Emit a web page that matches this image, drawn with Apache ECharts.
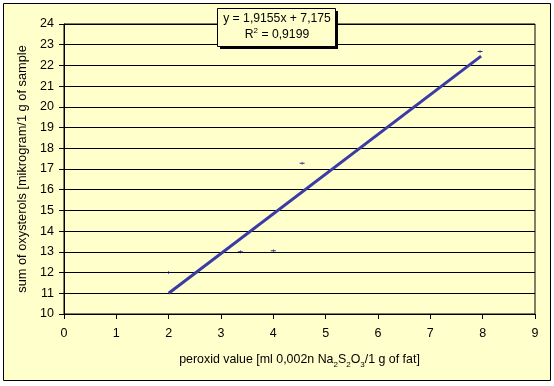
<!DOCTYPE html>
<html>
<head>
<meta charset="utf-8">
<script src="https://cdn.jsdelivr.net/npm/echarts@6/dist/echarts.min.js"></script>
<style>
html,body{margin:0;padding:0;background:#fff;}
#c{width:554px;height:386px;}
</style>
</head>
<body>
<div id="c"></div>
<script>
var xValues = [2, 3.37, 4, 4.55, 7.95];
var yValues = [12, 13, 13.05, 17.28, 22.67];
var trendX = [2, 7.97];
var trendY = [11.0, 22.45];
var equationText = 'y = 1,9155x + 7,175';
var r2Text = '0,9199';
var xAxisTitle = ['peroxid value [ml 0,002n Na', '2', 'S', '2', 'O', '3', '/1 g of fat]'];
var yAxisTitle = 'sum of oxysterols [mikrogram/1 g of sample';

var FONT = 'Liberation Sans, Arial, sans-serif';
var chart = echarts.init(document.getElementById('c'));

var points = xValues.map(function (x, i) { return [x, yValues[i]]; });
var trend = trendX.map(function (x, i) { return [x, trendY[i]]; });

var xName = '{n|' + xAxisTitle[0] + '}{s|' + xAxisTitle[1] + '}{n|' + xAxisTitle[2] + '}{s|' + xAxisTitle[3] + '}{n|' + xAxisTitle[4] + '}{s|' + xAxisTitle[5] + '}{n|' + xAxisTitle[6] + '}';

chart.setOption({
  backgroundColor: '#ffffff',
  animation: false,
  graphic: [{
    type: 'rect',
    z: -10,
    shape: {x: 3.5, y: 3.5, width: 547, height: 377},
    style: {fill: '#FFFFCC', stroke: '#000', lineWidth: 1}
  }, {
    type: 'rect',
    z: 100,
    shape: {x: 220, y: 11, width: 118, height: 38},
    style: {fill: '#000'}
  }, {
    type: 'rect',
    z: 101,
    shape: {x: 217.5, y: 8.5, width: 118, height: 38},
    style: {fill: '#FFFFCC', stroke: '#000', lineWidth: 1}
  }, {
    type: 'text',
    z: 102,
    x: 277,
    y: 11,
    style: {
      text: '{a|' + equationText + '}\n{b|R}{sup|2}{b| = ' + r2Text + '}',
      align: 'center',
      verticalAlign: 'top',
      rich: {
        a: {fontSize: 12.2, fontFamily: FONT, fill: '#000', lineHeight: 16},
        b: {fontSize: 12.2, fontFamily: FONT, fill: '#000', lineHeight: 16},
        sup: {fontSize: 8, fontFamily: FONT, fill: '#000', lineHeight: 16, verticalAlign: 'top', padding: [0, 0, 6, 0]}
      }
    }
  }],
  grid: {
    left: 64, right: 19, top: 24, bottom: 72,
    show: true, backgroundColor: '#FFFFCC', borderColor: '#000', borderWidth: 1
  },
  xAxis: {
    type: 'value', min: 0, max: 9, interval: 1,
    name: xName,
    nameLocation: 'middle',
    nameGap: 36,
    nameTextStyle: {
      rich: {
        n: {fontSize: 12.4, fontFamily: FONT, color: '#000', lineHeight: 16, verticalAlign: 'bottom'},
        s: {fontSize: 8, fontFamily: FONT, color: '#000', lineHeight: 16, verticalAlign: 'bottom', padding: [0,0,-3,0]}
      }
    },
    axisLine: {lineStyle: {color: '#000', width: 1}},
    axisTick: {show: true, inside: false, length: 5, lineStyle: {color: '#000'}},
    axisLabel: {color: '#000', fontSize: 12.5, fontFamily: FONT, margin: 13},
    splitLine: {show: false}
  },
  yAxis: {
    type: 'value', min: 10, max: 24, interval: 1,
    name: yAxisTitle,
    nameLocation: 'middle',
    nameGap: 30,
    nameTextStyle: {color: '#000', fontSize: 12.8, fontFamily: FONT},
    axisLine: {show: true, lineStyle: {color: '#000', width: 1}},
    axisTick: {show: true, inside: false, length: 5, lineStyle: {color: '#000'}},
    axisLabel: {color: '#000', fontSize: 12.5, fontFamily: FONT, margin: 10},
    splitLine: {show: true, lineStyle: {color: '#000', width: 1}}
  },
  series: [{
    type: 'line',
    data: trend,
    symbol: 'none',
    lineStyle: {color: '#3b3ba6', width: 3},
    z: 2
  }, {
    type: 'scatter',
    data: points,
    symbol: 'path://M0,1H3V0H4V1H7V2H4V3H3V2H0Z',
    symbolSize: [5, 3],
    itemStyle: {color: '#000080'},
    z: 3
  }]
});
</script>
</body>
</html>
